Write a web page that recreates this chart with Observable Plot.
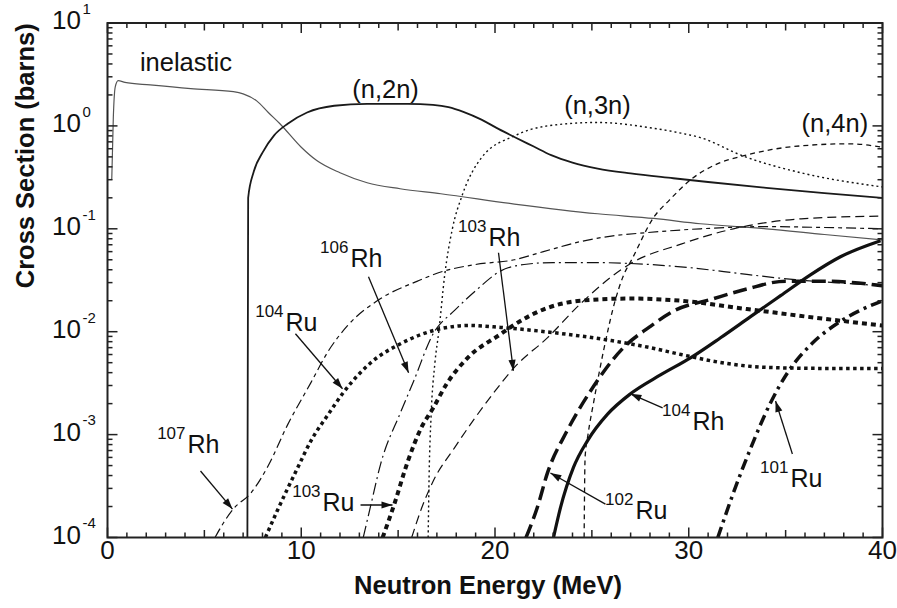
<!DOCTYPE html>
<html><head><meta charset="utf-8">
<script src="https://cdn.jsdelivr.net/npm/d3@7"></script>
<script src="https://cdn.jsdelivr.net/npm/@observablehq/plot@0.6"></script>
<style>body{margin:0;background:#fff} svg{display:block}</style>
</head><body><div id="chart"></div>
<script>
// ---- series: [neutron energy (MeV), cross section (barns)] ----
const inelastic = [[0.22,0.3],[0.3,1.2],[0.4,2.4],[0.55,2.75],[0.9,2.65],[2.2,2.5],[4.3,2.3],[6.5,2.15],[7.0,2.05],[7.7,1.75],[8.3,1.35],[8.9,1.05],[10.0,0.62],[10.8,0.46],[12.0,0.35],[13.4,0.28],[15.1,0.245],[17.2,0.219],[21,0.174],[25.3,0.14],[28.2,0.126],[30.6,0.112],[34,0.1],[37,0.088],[40,0.078]];
const n2n = [[7.22,1e-4],[7.26,0.2],[7.55,0.36],[8.0,0.55],[8.6,0.81],[9.3,1.05],[10.3,1.35],[11.7,1.57],[13.4,1.64],[15.5,1.64],[16.8,1.6],[17.6,1.52],[18.4,1.36],[19.3,1.15],[20.2,0.93],[21,0.78],[22,0.63],[22.9,0.52],[24,0.44],[25.3,0.385],[27,0.345],[29.2,0.31],[31,0.285],[34,0.25],[37,0.222],[40,0.2]];
const n3n = [[16.55,1e-4],[16.6,4e-4],[16.7,1.5e-3],[16.9,5e-3],[17.1,1e-2],[17.4,0.035],[17.8,0.1],[18.3,0.21],[19.3,0.49],[21,0.8],[22.7,1.0],[25.3,1.08],[28,0.96],[29.6,0.85],[30.6,0.77],[32.8,0.51],[35.8,0.35],[40,0.255]];
const n4n = [[24.6,1e-4],[24.65,6e-4],[24.8,1e-3],[25.1,2.1e-3],[25.6,6.5e-3],[26.2,0.02],[26.6,0.034],[27.1,0.052],[28.2,0.13],[29.0,0.19],[30.1,0.3],[31.5,0.43],[32.8,0.51],[34.3,0.59],[35.8,0.64],[38.3,0.67],[40,0.62]];
const rh107 = [[5.55,1e-4],[6.0,1.4e-4],[6.5,1.9e-4],[7.4,2.7e-4],[8.3,5e-4],[9.3,1.25e-3],[10.5,3.2e-3],[11.4,6.5e-3],[12.4,0.0115],[14.1,0.021],[16,0.031],[17.2,0.038],[19,0.045],[21,0.05],[22.5,0.06],[24.4,0.075],[26,0.085],[27.9,0.092],[30.6,0.1],[34,0.105],[37,0.103],[40,0.1]];
const rh106 = [[13.2,1e-4],[13.6,2.1e-4],[14.1,5.2e-4],[15.1,1.6e-3],[15.8,3.3e-3],[16.8,9.5e-3],[17.9,0.016],[19,0.025],[20.3,0.039],[21.5,0.045],[23,0.047],[25,0.047],[27,0.046],[30,0.042],[33,0.036],[35.5,0.032],[37.5,0.03],[40,0.028]];
const rh103 = [[15.7,1e-4],[16.2,1.9e-4],[16.8,3.5e-4],[17.9,7.4e-4],[19.9,2.5e-3],[21,4.5e-3],[22.7,8.7e-3],[24.4,0.0186],[27,0.046],[29.6,0.071],[32.3,0.1],[35.8,0.125],[40,0.133]];
const ru104 = [[8.15,1e-4],[8.75,1.8e-4],[9.8,4.7e-4],[10.5,8.7e-4],[11.4,1.58e-3],[12.2,2.6e-3],[13.7,5.2e-3],[15.1,7.6e-3],[17.2,0.0107],[18.7,0.0115],[20.3,0.011],[23,0.0098],[26,0.0082],[28,0.007],[29.6,0.006],[32,0.0049],[34,0.0045],[37,0.0044],[40,0.0044]];
const ru103 = [[14.2,1e-4],[14.8,2.1e-4],[15.5,5.5e-4],[16.2,1.17e-3],[16.8,1.8e-3],[17.5,3.1e-3],[18.6,5.6e-3],[20.3,9.5e-3],[21,0.0117],[22.7,0.017],[24.4,0.02],[27,0.021],[29.6,0.02],[33,0.0166],[37.2,0.0132],[40,0.0115]];
const rh104 = [[23.02,1e-4],[23.38,1.95e-4],[24.05,4.8e-4],[24.77,8.7e-4],[25.81,1.58e-3],[26.99,2.49e-3],[28.54,3.8e-3],[30.09,5.57e-3],[31.64,8.73e-3],[33.19,0.014],[34.74,0.0224],[36.28,0.0357],[37.83,0.0535],[39.9,0.0766]];
const ru102 = [[21.6,1e-4],[22.2,2e-4],[22.7,4.2e-4],[23.7,1.07e-3],[24.9,2.6e-3],[26.6,6.9e-3],[28,0.0112],[29.2,0.0158],[31.3,0.021],[33,0.026],[35,0.031],[37,0.031],[40,0.028]];
const ru101 = [[31.5,1e-4],[32.3,2.7e-4],[33.2,7.4e-4],[34.2,2.0e-3],[35.1,4.0e-3],[36.4,7.8e-3],[37.8,0.0125],[40,0.02]];

// ---- annotations (data coordinates) ----
const curveLabels = [
  {text:"inelastic", x:4.05, y:4.08},
  {text:"(n,2n)", x:14.35, y:2.23},
  {text:"(n,3n)", x:25.29, y:1.575},
  {text:"(n,4n)", x:37.54, y:1.045}
];
const isoLabels = [
  {mass:"107", el:"Rh", x:4.13, y:7.94e-4},
  {mass:"104", el:"Ru", x:9.19, y:0.01221},
  {mass:"106", el:"Rh", x:12.54, y:0.0512},
  {mass:"103", el:"Rh", x:19.66, y:0.0818},
  {mass:"103", el:"Ru", x:11.10, y:2.17e-4},
  {mass:"104", el:"Rh", x:30.19, y:1.33e-3},
  {mass:"102", el:"Ru", x:27.25, y:1.81e-4},
  {mass:"101", el:"Ru", x:35.25, y:3.71e-4}
];
const arrows = [
  {x1:4.8, y1:4.43e-4, x2:6.45, y2:1.89e-4},
  {x1:9.70, y1:9.55e-3, x2:12.13, y2:2.79e-3},
  {x1:13.47, y1:0.0342, x2:15.54, y2:3.98e-3},
  {x1:20.18, y1:0.0585, x2:20.95, y2:4.17e-3},
  {x1:13.06, y1:2.07e-4, x2:14.71, y2:2.07e-4},
  {x1:28.65, y1:1.82e-3, x2:26.99, y2:2.49e-3},
  {x1:25.70, y1:2.11e-4, x2:22.86, y2:4.24e-4},
  {x1:35.35, y1:6.48e-4, x2:34.48, y2:2.12e-3}
];

// ---- ticks ----
const xTickLabels = [0,10,20,30,40];
const xMid = [5,15,25,35];
const xMinor = d3.range(0,41).filter(v => v % 5 !== 0);
const yDecades = [1e-4,1e-3,1e-2,1e-1,1,10];
const yMinor = yDecades.slice(0,-1).flatMap(d => d3.range(2,10).map(k => k*d));

const W = 897, H = 608, mL = 107, mR = 15, mT = 22.5, mB = 71;
const xDom = [0,40], yDom = [1e-4,10];
const common = {
  width:W, height:H, marginLeft:mL, marginRight:mR, marginTop:mT, marginBottom:mB,
  x:{domain:xDom, axis:null}, y:{type:"log", domain:yDom, axis:null},
  style:{fontFamily:"'Liberation Sans', Arial, sans-serif", background:"#fff", color:"#111"}
};
const probe = Plot.plot({...common, marks:[Plot.frame()]});
const sx = probe.scale("x"), sy = probe.scale("y");
const heads = arrows.map(a => ({...a,
  angle: Math.atan2(sy.apply(a.y2)-sy.apply(a.y1), sx.apply(a.x2)-sx.apply(a.x1))*180/Math.PI}));
const arrowHead = {draw(ctx){ ctx.moveTo(0,0); ctx.lineTo(-11,-3.6); ctx.lineTo(-11,3.6); ctx.closePath(); }};

// inward tick segments built through the plot's own scales
const tickSegs = [];
function addX(vals, len){
  for (const v of vals) {
    tickSegs.push({x1:v, x2:v, y1:yDom[0], y2:sy.invert(sy.apply(yDom[0]) - len)});
    tickSegs.push({x1:v, x2:v, y1:yDom[1], y2:sy.invert(sy.apply(yDom[1]) + len)});
  }
}
function addY(vals, len){
  for (const v of vals) {
    tickSegs.push({y1:v, y2:v, x1:xDom[0], x2:sx.invert(sx.apply(xDom[0]) + len)});
    tickSegs.push({y1:v, y2:v, x1:xDom[1], x2:sx.invert(sx.apply(xDom[1]) - len)});
  }
}
addX(xMinor, 5); addX(xMid, 7.5); addX(xTickLabels, 10);
addY(yMinor, 5); addY(yDecades, 10);

function curve(data, opts){
  return Plot.line(data, {x:d=>d[0], y:d=>d[1], curve:"monotone-x", clip:true,
    strokeLinecap:"butt", strokeLinejoin:"round", stroke:"#111", ...opts});
}

const chart = Plot.plot({...common, marks:[
  curve(inelastic, {stroke:"#555", strokeWidth:1.2}),
  curve(n2n, {strokeWidth:1.8, stroke:"#1a1a1a"}),
  curve(n3n, {strokeWidth:1.4, strokeDasharray:"2,3"}),
  curve(n4n, {strokeWidth:1.3, strokeDasharray:"5,4"}),
  curve(rh107, {strokeWidth:1.2, strokeDasharray:"10,4,4,4"}),
  curve(rh106, {strokeWidth:1.2, strokeDasharray:"12,4,2,4"}),
  curve(rh103, {strokeWidth:1.2, strokeDasharray:"9,5"}),
  curve(ru104, {strokeWidth:3.5, strokeDasharray:"3.5,3.5"}),
  curve(ru103, {strokeWidth:4, strokeDasharray:"5,4"}),
  curve(rh104, {strokeWidth:3.2}),
  curve(ru102, {strokeWidth:3.5, strokeDasharray:"14,6"}),
  curve(ru101, {strokeWidth:3.5, strokeDasharray:"11,5,3,5"}),
  // inward ticks on all sides
  Plot.link(tickSegs, {x1:"x1", y1:"y1", x2:"x2", y2:"y2", stroke:"#222", strokeWidth:1.5}),
  Plot.frame({stroke:"#222", strokeWidth:2}),
  // tick labels
  Plot.text(xTickLabels, {x:d=>d, frameAnchor:"bottom", dy:21, text:d=>String(d), fontSize:26, fill:"#111"}),
  Plot.text(yDecades, {y:d=>d, frameAnchor:"left", dx:-26.5, dy:-2, textAnchor:"end", text:()=>"10", fontSize:26, fill:"#111"}),
  Plot.text(yDecades, {y:d=>d, frameAnchor:"left", dx:-25, dy:-14, textAnchor:"start", text:d=>String(Math.round(Math.log10(d))), fontSize:15, fill:"#111"}),
  // axis titles
  Plot.text(["Neutron Energy (MeV)"], {frameAnchor:"bottom", dx:-7, dy:56, text:d=>d, fontSize:25.5, fontWeight:"bold", fill:"#111"}),
  Plot.text(["Cross Section (barns)"], {frameAnchor:"left", dx:-82, dy:8, rotate:-90, text:d=>d, fontSize:25.5, fontWeight:"bold", fill:"#111"}),
  // curve labels
  Plot.text(curveLabels, {x:"x", y:"y", text:"text", fontSize:25.5, fill:"#111"}),
  Plot.text(isoLabels, {x:"x", y:"y", text:"el", textAnchor:"start", fontSize:25, fill:"#111"}),
  Plot.text(isoLabels, {x:"x", y:"y", text:"mass", textAnchor:"end", dx:-2, dy:-11, fontSize:17, fill:"#111"}),
  // arrows
  Plot.link(arrows, {x1:"x1", y1:"y1", x2:"x2", y2:"y2", stroke:"#111", strokeWidth:1.3}),
  Plot.dot(heads, {x:"x2", y:"y2", symbol:arrowHead, rotate:"angle", fill:"#111"})
]});
document.getElementById("chart").append(chart);
</script>
</body></html>
